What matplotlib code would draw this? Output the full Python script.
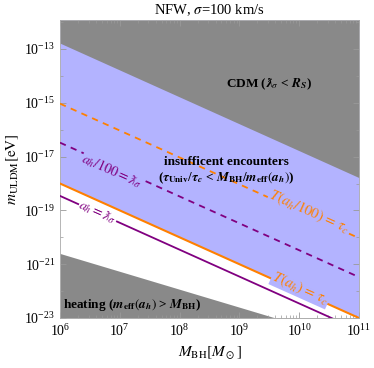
import numpy as np
import matplotlib
matplotlib.use("Agg")
import matplotlib.pyplot as plt

plt.rcParams['font.family'] = ['Liberation Serif', 'DejaVu Serif']
plt.rcParams['mathtext.fontset'] = 'stix'

# data (log10 values at M_BH = 1e6 and 1e11)
mass_bh = [1e6, 1e11]
cdm_bound = [10**-12.78, 10**-17.78]          # lambda_sigma = R_S
orange_solid = [10**-18.0, 10**-23.0]          # T(a_h) = tau_c
orange_dashed = [10**-15.03, 10**-20.03]       # T(a_h/100) = tau_c
purple_solid = [10**-18.46, 10**-23.46]        # a_h = lambda_sigma
purple_dashed = [10**-16.48, 10**-21.48]       # a_h/100 = lambda_sigma
heating_bound = [10**-20.6, 10**-23.93]        # m_eff(a_h) = M_BH

xlim = (1e6, 1e11)
ylim = (1e-23, 10**-11.92)

GRAY = '#898989'
BLUE = '#b3b3ff'
ORANGE = '#ff8000'
PURPLE = '#800080'

fig = plt.figure(figsize=(3.74, 3.68), dpi=100)
ax = fig.add_axes([60/374, 1-318/368, (359-60)/374, (318-20)/368])
ax.set_xscale('log')
ax.set_yscale('log')
ax.set_xlim(*xlim)
ax.set_ylim(*ylim)

ax.fill_between(mass_bh, orange_solid, ylim[1], color=BLUE, lw=0, zorder=1)
ax.fill_between(mass_bh, cdm_bound, ylim[1], color=GRAY, lw=0, zorder=1.1)
ax.fill_between(mass_bh, ylim[0], heating_bound, color=GRAY, lw=0, zorder=1)

ax.plot(mass_bh, orange_solid, color=ORANGE, lw=1.5, zorder=3)
ax.plot(mass_bh, purple_solid, color=PURPLE, lw=1.3, zorder=3)
ax.plot(mass_bh, orange_dashed, color=ORANGE, lw=1.3, ls=(0, (3.5, 3)), zorder=3)
ax.plot(mass_bh, purple_dashed, color=PURPLE, lw=1.3, ls=(0, (3.5, 3)), zorder=3)

ang = -np.degrees(np.arctan(26.9/60))
def inline(x, y, s, color, bg, size):
    ax.text(x, y, s, color=color, fontsize=size, rotation=ang, ha='center', va='center',
            rotation_mode='anchor', zorder=4,
            bbox=dict(facecolor=bg, edgecolor='none', pad=0.3))

inline(10**6.87, 10**-17.5, r'$a_h/100=\lambdabar_\sigma$', PURPLE, BLUE, 10)
inline(10**6.63, 10**-19.08, r'$a_h=\lambdabar_\sigma$', PURPLE, 'white', 10)
inline(10**10.17, 10**-19.05, r'$T(a_h/100)\,=\,\tau_c$', ORANGE, BLUE, 10.5)
inline(10**10.02, 10**-21.9, r'$T(a_h)\,=\,\tau_c$', ORANGE, BLUE, 10.5)

ax.text(10**9.5, 10**-14.3, r'CDM ($\mathbfit{\lambdabar}_{\sigma}$ < $\mathbfit{R_S}$)',
        fontsize=9.5, fontweight='bold', ha='center', va='center', zorder=5)
ax.text(10**8.78, 10**-17.2, 'insufficent encounters', fontsize=9.5, fontweight='bold',
        ha='center', va='center', zorder=5)
ax.text(10**8.78, 10**-17.8,
        r'($\mathbfit{\tau}_{\mathbf{Univ}}/\mathbfit{\tau}_{\mathbfit{c}}$ < $\mathbfit{M}_{\mathbf{BH}}/\mathbfit{m}_{\mathbf{eff}}(\mathbfit{a_h})$)',
        fontsize=9.5, fontweight='bold', ha='center', va='center', zorder=5)
ax.text(10**6.05, 10**-22.5,
        r'heating ($\mathbfit{m}_{\mathbf{eff}}(\mathbfit{a_h})$ > $\mathbfit{M}_{\mathbf{BH}}$)',
        fontsize=9.5, fontweight='bold', ha='left', va='center', zorder=5)

ax.set_title(r'NFW, $\sigma$=100 km/s', fontsize=10.5, pad=4)
ax.set_xlabel(r'$M_{\rm BH}[M_\odot]$', fontsize=11, labelpad=4)
ax.set_ylabel(r'$m_{\rm ULDM}[\rm eV]$', fontsize=11, labelpad=2)

from matplotlib.ticker import LogLocator, FixedLocator, NullFormatter
ax.xaxis.set_major_locator(LogLocator(base=10, numticks=20))
ax.xaxis.set_minor_locator(LogLocator(base=10, subs=np.arange(2, 10), numticks=100))
ax.xaxis.set_minor_formatter(NullFormatter())
ax.yaxis.set_major_locator(FixedLocator([10.0**k for k in range(-23, -12, 2)]))
ax.yaxis.set_minor_locator(FixedLocator([10.0**k for k in range(-22, -11, 2)]))
ax.yaxis.set_minor_formatter(NullFormatter())
ax.tick_params(which='both', direction='in', top=True, right=True, colors='#999999',
               labelcolor='black', labelsize=10)
ax.tick_params(which='major', length=4, width=0.6)
ax.tick_params(which='minor', length=2, width=0.5)
for sp in ax.spines.values():
    sp.set_color('#aaaaaa')
    sp.set_linewidth(0.6)

fig.savefig('out.png', dpi=100)
